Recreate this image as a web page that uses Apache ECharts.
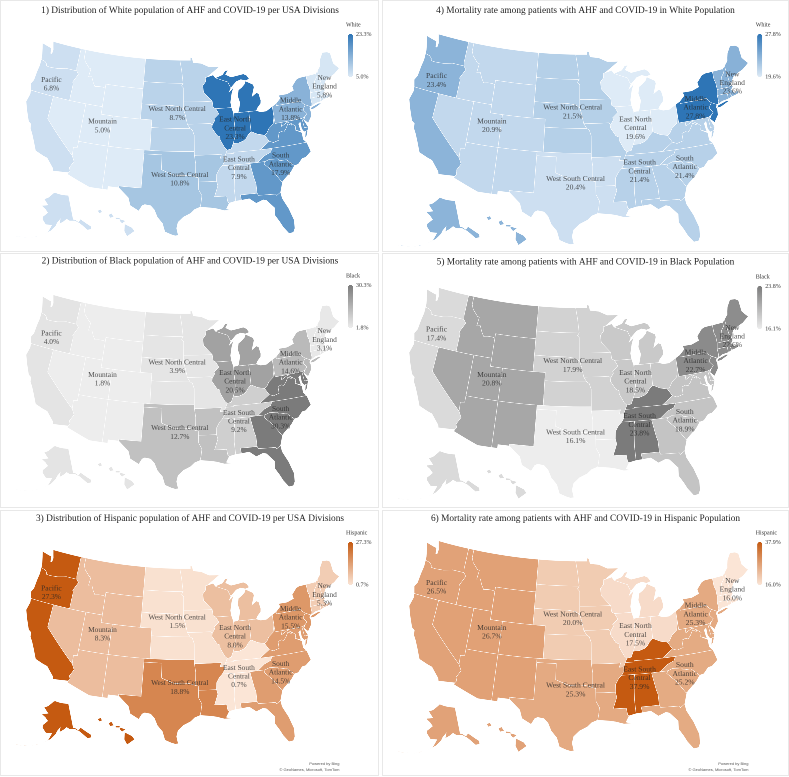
<!DOCTYPE html>
<html><head><meta charset="utf-8">
<style>html,body{margin:0;padding:0;background:#fff}#c,#t{position:absolute;left:0;top:0;width:789px;height:777px}</style>
<script src="https://cdn.jsdelivr.net/npm/echarts@6/dist/echarts.min.js"></script>
</head><body><div id="c"></div><div id="t"></div>
<script>
// ---------- chart values ----------
const divisions = ['Pacific','Mountain','West North Central','West South Central','East North Central','East South Central','South Atlantic','Middle Atlantic','New England'];
const divisionLabels = ['Pacific','Mountain','West North Central','West South Central','East North\nCentral','East South\nCentral','South\nAtlantic','Middle\nAtlantic','New\nEngland'];
const whiteDistribution    = [6.8, 5.0, 8.7, 10.8, 23.3, 7.9, 17.9, 13.8, 5.8];
const blackDistribution    = [4.0, 1.8, 3.9, 12.7, 20.5, 9.2, 30.3, 14.6, 3.1];
const hispanicDistribution = [27.3, 8.3, 1.5, 18.8, 8.0, 0.7, 14.5, 15.5, 5.3];
const whiteMortality       = [23.4, 20.9, 21.5, 20.4, 19.6, 21.4, 21.4, 27.8, 23.6];
const blackMortality       = [17.4, 20.8, 17.9, 16.1, 18.5, 23.8, 18.9, 22.7, 22.6];
const hispanicMortality    = [26.5, 26.7, 20.0, 25.3, 17.5, 37.9, 25.2, 25.3, 16.0];
const panelTitles = [
 '1) Distribution of White population of AHF and COVID-19 per USA Divisions',
 '2) Distribution of Black population of AHF and COVID-19 per USA Divisions',
 '3) Distribution of Hispanic population of AHF and COVID-19 per USA Divisions',
 '4) Mortality rate among patients with AHF and COVID-19 in White Population',
 '5) Mortality rate among patients with AHF and COVID-19 in Black Population',
 '6) Mortality rate among patients with AHF and COVID-19 in Hispanic Population'];
const legendNames = ['White','Black','Hispanic','White','Black','Hispanic'];
const stateDivision = {WA:0,OR:0,CA:0,AK:0,HI:0,MT:1,ID:1,WY:1,NV:1,UT:1,CO:1,AZ:1,NM:1,ND:2,SD:2,NE:2,KS:2,MN:2,IA:2,MO:2,TX:3,OK:3,AR:3,LA:3,WI:4,MI:4,IL:4,IN:4,OH:4,KY:5,TN:5,MS:5,AL:5,DE:6,MD:6,VA:6,WV:6,NC:6,SC:6,GA:6,FL:6,NY:7,NJ:7,PA:7,ME:8,NH:8,VT:8,MA:8,RI:8,CT:8};
// label anchors, lon/lat of each division's text
const labelAnchors = [[-120.9,43.47],[-110.5,39.5],[-97.6,41.97],[-97,33.36],[-87.5,39.75],[-87.46,34.5],[-80.7,34.33],[-77.4,41.17],[-70.55,43.05]];

// ---------- base map (simplified state outlines, lon/lat) ----------
const S = {
WA:[[[-124.7,48.4],[-123.2,48.15],[-122.75,48.1],[-122.6,47.4],[-122.35,47.4],[-122.3,47.95],[-122.5,48.4],[-122.75,49],[-117.03,49],[-117.04,46.42],[-116.92,45.99],[-118.98,46],[-119.3,45.93],[-120.5,45.7],[-121.2,45.65],[-122,45.6],[-122.7,45.63],[-122.8,45.9],[-123.2,46.15],[-124,46.27],[-124.05,46.7],[-124.15,47],[-124.4,47.7]]],
OR:[[[-124,46.27],[-123.2,46.15],[-122.8,45.9],[-122.7,45.63],[-122,45.6],[-121.2,45.65],[-120.5,45.7],[-119.3,45.93],[-118.98,46],[-116.92,45.99],[-116.47,45.6],[-116.85,45],[-117.2,44.45],[-117.03,44.2],[-117.03,42],[-120,42],[-124.2,42],[-124.55,42.84],[-124.2,43.4],[-124.1,44.6],[-123.95,45.5]]],
CA:[[[-124.2,42],[-120,42],[-120,39],[-114.63,35],[-114.15,34.3],[-114.7,33.4],[-114.5,33],[-114.72,32.72],[-117.12,32.53],[-117.25,32.85],[-118.5,34],[-119.2,34.15],[-120.6,34.55],[-121.3,35.7],[-121.9,36.6],[-122.4,37.2],[-122.5,37.75],[-123,38],[-123.8,39.3],[-124.4,40.4],[-124.1,41.5]]],
NV:[[[-120,42],[-117.03,42],[-114.04,42],[-114.05,37],[-114.05,36.2],[-114.7,36.1],[-114.63,35],[-120,39]]],
ID:[[[-117.03,49],[-116.05,49],[-116.05,48],[-115.7,47.45],[-114.7,46.7],[-114.35,46.65],[-114.5,45.55],[-113.9,45.65],[-113.45,44.95],[-113,44.45],[-112.3,44.55],[-111.5,44.55],[-111.05,44.47],[-111.05,42],[-114.04,42],[-117.03,42],[-117.03,44.2],[-117.2,44.45],[-116.85,45],[-116.47,45.6],[-116.92,45.99],[-117.04,46.42]]],
MT:[[[-116.05,49],[-104.05,49],[-104.05,45.94],[-104.05,45],[-111.05,45],[-111.05,44.47],[-111.5,44.55],[-112.3,44.55],[-113,44.45],[-113.45,44.95],[-113.9,45.65],[-114.5,45.55],[-114.35,46.65],[-114.7,46.7],[-115.7,47.45],[-116.05,48]]],
WY:[[[-111.05,45],[-104.05,45],[-104.05,43],[-104.05,41],[-111.05,41],[-111.05,42],[-111.05,44.47]]],
UT:[[[-114.04,42],[-111.05,42],[-111.05,41],[-109.05,41],[-109.05,37],[-114.05,37]]],
CO:[[[-109.05,41],[-104.05,41],[-102.05,41],[-102.05,40],[-102.04,37],[-103,37],[-109.05,37]]],
AZ:[[[-114.05,37],[-109.05,37],[-109.05,31.33],[-111.07,31.33],[-114.81,32.5],[-114.72,32.72],[-114.5,33],[-114.7,33.4],[-114.15,34.3],[-114.63,35],[-114.7,36.1],[-114.05,36.2]]],
NM:[[[-109.05,37],[-103,37],[-103,36.5],[-103.04,32],[-106.62,32],[-106.53,31.78],[-108.21,31.78],[-108.21,31.33],[-109.05,31.33]]],
ND:[[[-104.05,49],[-97.23,49],[-96.85,47.6],[-96.56,45.94],[-104.05,45.94]]],
SD:[[[-104.05,45.94],[-96.56,45.94],[-96.85,45.6],[-96.45,45.3],[-96.45,43.5],[-96.44,42.49],[-97.2,42.85],[-98.5,43],[-104.05,43],[-104.05,45]]],
NE:[[[-104.05,43],[-98.5,43],[-97.2,42.85],[-96.44,42.49],[-96.1,41.7],[-95.9,41],[-95.77,40.58],[-95.3,40],[-102.05,40],[-102.05,41],[-104.05,41]]],
KS:[[[-102.05,40],[-95.3,40],[-94.9,39.8],[-94.6,39.1],[-94.62,37],[-102.04,37]]],
OK:[[[-103,37],[-102.04,37],[-94.62,37],[-94.62,36.5],[-94.43,35.4],[-94.48,33.64],[-95.5,33.9],[-96.6,33.85],[-97.9,33.9],[-99.2,34.3],[-100,34.56],[-100,36.5],[-103,36.5]]],
TX:[[[-103,36.5],[-100,36.5],[-100,34.56],[-99.2,34.3],[-97.9,33.9],[-96.6,33.85],[-95.5,33.9],[-94.48,33.64],[-94.04,33.55],[-94.04,33],[-94.04,32],[-93.55,31.2],[-93.7,30.3],[-93.85,29.7],[-94.7,29.4],[-95.3,28.9],[-96.4,28.4],[-97.2,27.7],[-97.4,26.9],[-97.15,25.96],[-97.6,25.9],[-98.2,26.06],[-99.1,26.4],[-99.5,27.5],[-100.3,28.3],[-100.8,29.25],[-101.4,29.77],[-102.3,29.88],[-102.7,29.7],[-103.15,28.98],[-104.5,29.6],[-104.9,30.6],[-106,31.4],[-106.53,31.78],[-106.62,32],[-103.04,32]]],
AR:[[[-94.62,36.5],[-90.15,36.5],[-90.37,36],[-89.7,36],[-89.7,35.5],[-90.1,35],[-90.6,34.6],[-91.1,33.9],[-91.17,33],[-94.04,33],[-94.04,33.55],[-94.48,33.64],[-94.43,35.4]]],
LA:[[[-94.04,33],[-91.17,33],[-91,32.4],[-91.6,31],[-89.73,31],[-89.6,30.2],[-89.4,30.05],[-89.9,29.3],[-89.2,29.1],[-90.2,29.1],[-91.3,29.4],[-92.2,29.55],[-93.85,29.7],[-93.7,30.3],[-93.55,31.2],[-94.04,32]]],
MO:[[[-95.77,40.58],[-91.73,40.61],[-91.42,40.38],[-91.5,40],[-90.7,39],[-90.2,38.8],[-90.2,38.4],[-89.5,37.3],[-89.13,37],[-89.42,36.5],[-89.7,36],[-90.37,36],[-90.15,36.5],[-94.62,36.5],[-94.62,37],[-94.6,39.1],[-94.9,39.8],[-95.3,40]]],
IA:[[[-96.45,43.5],[-91.22,43.5],[-91.1,42.7],[-90.65,42.5],[-90.15,41.8],[-91.05,41.2],[-90.95,40.95],[-91.42,40.38],[-91.73,40.61],[-95.77,40.58],[-95.9,41],[-96.1,41.7],[-96.44,42.49]]],
MN:[[[-97.23,49],[-95.15,49],[-95.15,49.38],[-94.8,49.3],[-94.6,48.7],[-93,48.55],[-91.5,48.05],[-89.5,48],[-92,46.7],[-92.3,46.65],[-92.3,46.1],[-92.85,45.6],[-92.75,44.75],[-91.22,43.5],[-96.45,43.5],[-96.45,45.3],[-96.85,45.6],[-96.56,45.94],[-96.85,47.6]]],
WI:[[[-92,46.7],[-90.8,46.95],[-90.4,46.55],[-88.1,45.9],[-87.8,45.35],[-87.6,45.1],[-88,44.55],[-87.4,44.9],[-87.05,45.25],[-87.55,44.3],[-87.9,43.2],[-87.8,42.5],[-90.65,42.5],[-91.1,42.7],[-91.22,43.5],[-92.75,44.75],[-92.85,45.6],[-92.3,46.1],[-92.3,46.65]]],
IL:[[[-90.65,42.5],[-87.8,42.5],[-87.53,41.72],[-87.53,39.35],[-87.6,38.7],[-88.05,37.8],[-88.45,37.1],[-89.13,37],[-89.5,37.3],[-90.2,38.4],[-90.2,38.8],[-90.7,39],[-91.5,40],[-91.42,40.38],[-90.95,40.95],[-91.05,41.2],[-90.15,41.8]]],
IN:[[[-87.53,41.72],[-87.2,41.76],[-86.8,41.76],[-84.8,41.76],[-84.82,39.1],[-85.4,38.7],[-85.8,38.27],[-86.3,38],[-87.1,37.8],[-88.05,37.8],[-87.6,38.7],[-87.53,39.35]]],
OH:[[[-84.8,41.76],[-83.45,41.73],[-82.7,41.5],[-81.7,41.5],[-80.52,41.98],[-80.52,40.64],[-80.85,39.7],[-81.7,39.2],[-82.2,38.6],[-82.6,38.42],[-83.7,38.65],[-84.82,39.1]]],
MI:[[[-86.8,41.76],[-84.8,41.76],[-83.45,41.73],[-83.15,42.1],[-82.5,42.6],[-82.4,43],[-82.6,43.9],[-83,44.07],[-83.9,43.65],[-83.3,44.85],[-83.4,45.2],[-84.75,45.78],[-85,45.4],[-85.6,45],[-86.25,44.7],[-86.5,43.9],[-86.2,43],[-86.6,41.95]],
    [[-90.4,46.55],[-89,46.9],[-88.45,47.4],[-87.9,47.45],[-88.4,46.9],[-87.4,46.5],[-85,46.75],[-84.4,46.5],[-84,46],[-84.75,45.85],[-85.6,46.05],[-86.5,45.85],[-87.6,45.1],[-87.8,45.35],[-88.1,45.9]]],
KY:[[[-89.42,36.5],[-89.13,37],[-88.45,37.1],[-88.05,37.8],[-87.1,37.8],[-86.3,38],[-85.8,38.27],[-85.4,38.7],[-84.82,39.1],[-83.7,38.65],[-82.6,38.42],[-81.97,37.54],[-83.68,36.6],[-88.07,36.65],[-88.07,36.5]]],
TN:[[[-89.42,36.5],[-88.07,36.5],[-88.07,36.65],[-83.68,36.6],[-81.68,36.59],[-82,36.1],[-83.1,35.75],[-84.32,35],[-85.6,34.98],[-88.2,35],[-90.1,35],[-89.7,35.5],[-89.7,36]]],
MS:[[[-90.1,35],[-88.2,35],[-88.1,34.9],[-88.47,31.9],[-88.4,30.25],[-89.4,30.05],[-89.6,30.2],[-89.73,31],[-91.6,31],[-91,32.4],[-91.17,33],[-91.1,33.9],[-90.6,34.6]]],
AL:[[[-88.2,35],[-85.6,34.98],[-85.18,32.87],[-85,32.3],[-85,31],[-87.6,31],[-87.5,30.3],[-88.4,30.25],[-88.47,31.9],[-88.1,34.9]]],
GA:[[[-85.6,34.98],[-84.32,35],[-83.1,35],[-83.35,34.7],[-82,33.5],[-81,32.1],[-80.85,32.03],[-81.4,30.72],[-82.05,30.36],[-82.2,30.57],[-84.86,30.7],[-85,31],[-85,32.3],[-85.18,32.87]]],
FL:[[[-87.6,31],[-85,31],[-84.86,30.7],[-82.2,30.57],[-82.05,30.36],[-81.4,30.72],[-81.3,29.9],[-80.55,28.4],[-80.05,26.8],[-80.15,25.7],[-80.45,25.2],[-81.1,25.15],[-81.8,26.1],[-82.2,26.9],[-82.75,27.8],[-82.65,28.8],[-83.7,29.9],[-84.2,30.05],[-85.3,29.7],[-86.3,30.4],[-87.5,30.3]]],
SC:[[[-83.35,34.7],[-83.1,35],[-82.4,35.2],[-81.05,35.1],[-80.8,34.82],[-79.67,34.8],[-78.55,33.86],[-79.2,33.2],[-80.45,32.35],[-80.85,32.03],[-81,32.1],[-82,33.5]]],
NC:[[[-84.32,35],[-83.1,35],[-82.4,35.2],[-81.05,35.1],[-80.8,34.82],[-79.67,34.8],[-78.55,33.86],[-77.9,33.95],[-77.1,34.6],[-76.5,34.65],[-75.5,35.25],[-75.75,36.2],[-75.87,36.55],[-81.68,36.59],[-82,36.1],[-83.1,35.75]]],
VA:[[[-83.68,36.6],[-81.97,37.54],[-81.3,37.3],[-80.3,37.5],[-80.3,38.4],[-79.7,38.55],[-79.3,38.42],[-78.87,38.77],[-78.35,39.4],[-77.83,39.13],[-77.72,39.32],[-77.1,38.9],[-77.3,38.4],[-76.3,37.9],[-76.3,37],[-75.87,36.55],[-81.68,36.59]],
    [[-75.95,37.15],[-75.65,37.95],[-75.25,38.03],[-75.6,37.4]]],
WV:[[[-82.6,38.42],[-82.2,38.6],[-81.7,39.2],[-80.85,39.7],[-80.52,40.64],[-80.52,39.72],[-79.48,39.72],[-79.48,39.2],[-78.4,39.62],[-77.72,39.32],[-77.83,39.13],[-78.35,39.4],[-78.87,38.77],[-79.3,38.42],[-79.7,38.55],[-80.3,38.4],[-80.3,37.5],[-81.3,37.3],[-81.97,37.54]]],
MD:[[[-79.48,39.72],[-75.79,39.72],[-75.7,38.46],[-75.05,38.45],[-75.25,38.03],[-75.9,37.95],[-76.2,38.4],[-76.2,39.3],[-76.55,39.1],[-76.45,38.3],[-76.35,38.05],[-77.3,38.4],[-77.1,38.9],[-77.72,39.32],[-78.4,39.62],[-79.48,39.2]]],
DE:[[[-75.79,39.72],[-75.4,39.8],[-75.55,39.5],[-75.05,38.45],[-75.7,38.46]]],
NJ:[[[-74.7,41.36],[-73.9,41],[-74.1,40.7],[-74,40.4],[-74.1,39.75],[-74.9,38.95],[-75.5,39.5],[-75.1,39.95],[-74.75,40.2],[-75.2,40.7],[-75.1,41]]],
PA:[[[-80.52,41.98],[-79.76,42.27],[-79.76,42],[-75.35,42],[-75.05,41.6],[-74.7,41.36],[-75.1,41],[-75.2,40.7],[-74.75,40.2],[-75.1,39.95],[-75.4,39.8],[-75.79,39.72],[-79.48,39.72],[-80.52,39.72],[-80.52,40.64]]],
NY:[[[-79.76,42.27],[-78.9,42.85],[-79.05,43.27],[-77.5,43.25],[-76.2,43.55],[-76.3,44.1],[-75.3,44.85],[-74.7,45],[-73.35,45],[-73.4,44],[-73.25,43.6],[-73.27,42.75],[-73.5,42.05],[-73.5,41.3],[-73.65,41],[-73.9,41],[-74.7,41.36],[-75.05,41.6],[-75.35,42],[-79.76,42]],
    [[-74,40.6],[-73.7,40.88],[-72.3,41.15],[-71.9,41.05],[-73.3,40.62]]],
CT:[[[-73.5,42.05],[-71.8,42.02],[-71.85,41.32],[-72.9,41.25],[-73.65,41],[-73.5,41.3]]],
RI:[[[-71.8,42.02],[-71.38,42.02],[-71.2,41.5],[-71.85,41.32]]],
MA:[[[-73.27,42.75],[-72.45,42.73],[-71.3,42.7],[-70.85,42.87],[-70.6,42.65],[-71,42.3],[-70.55,41.8],[-70.1,42.05],[-69.95,41.7],[-70.6,41.55],[-71.2,41.5],[-71.38,42.02],[-71.8,42.02],[-73.5,42.05]]],
VT:[[[-73.35,45],[-71.5,45.01],[-71.55,44.5],[-72.05,44.1],[-72.3,43.6],[-72.45,42.73],[-73.27,42.75],[-73.25,43.6],[-73.4,44]]],
NH:[[[-71.5,45.01],[-71.08,45.3],[-70.98,43.4],[-70.7,43.07],[-70.85,42.87],[-71.3,42.7],[-72.45,42.73],[-72.3,43.6],[-72.05,44.1],[-71.55,44.5]]],
ME:[[[-71.08,45.3],[-70.4,45.8],[-70.25,46.2],[-70,46.7],[-69.23,47.46],[-68.3,47.35],[-67.8,47.07],[-67.8,45.7],[-67.45,45.3],[-67,44.85],[-68.2,44.3],[-69,44.1],[-70.1,43.75],[-70.7,43.07],[-70.98,43.4]]],
AK:[[[-141,69.65],[-141,60.3],[-139.5,60],[-137.5,58.9],[-135.5,59.7],[-133.5,58.4],[-130,55.9],[-130.5,54.8],[-133,55],[-135.5,57.2],[-137,58.3],[-139.9,59.6],[-144,60],[-146,60.8],[-148.5,60],[-151.8,59.2],[-151,61],[-153.5,59.6],[-154.5,58.5],[-158,56.5],[-163,54.8],[-160,55.9],[-157.5,58.7],[-162,58.7],[-165,60.5],[-165.2,61.5],[-161.5,63.3],[-164,64.5],[-168,65.6],[-162,66.2],[-166.7,68.3],[-163,69],[-156.5,71.3],[-150,70.5]],
    [[-167.2,53.4],[-166.2,53.9],[-166.6,53.9],[-168,53.4]],[[-170.2,52.75],[-168.8,53.2],[-169,53.1],[-170.4,52.65]],[[-174.4,52.05],[-172.8,52.4],[-173,52.4],[-174.6,52.2]],[[-177.8,51.6],[-176,51.9],[-176.2,52],[-177.8,51.8]],[[-179.5,51.3],[-178.2,51.7],[-178.4,51.8],[-179.5,51.5]]],
HI:[[[-156.05,20.4],[-155,19.9],[-154.65,19.45],[-155.7,18.75],[-156.1,19.45]],
    [[-156.8,21.05],[-155.9,20.8],[-156.4,20.45],[-156.7,20.75]],[[-158.3,21.6],[-157.9,21.8],[-157.55,21.3],[-158.1,21.2]],[[-159.85,22.15],[-159.4,22.3],[-159.2,21.95],[-159.6,21.8]],[[-157.35,21.25],[-156.7,21.2],[-156.75,21],[-157.3,21.02]]]
};

function densify(ring){const out=[];for(let i=0;i<ring.length;i++){const a=ring[i],b=ring[(i+1)%ring.length];const n=Math.max(1,Math.ceil(Math.max(Math.abs(a[0]-b[0]),Math.abs(a[1]-b[1]))));for(let k=0;k<n;k++)out.push([a[0]+(b[0]-a[0])*k/n,a[1]+(b[1]-a[1])*k/n]);}out.push(out[0].slice());return out;}
const features=Object.keys(S).map(k=>({type:'Feature',properties:{name:k},geometry:{type:'MultiPolygon',coordinates:S[k].map(r=>[densify(r)])}}));
echarts.registerMap('usa',{type:'FeatureCollection',features});

// Albers conic; Alaska and Hawaii go to their insets
const R=Math.PI/180, U=1000;
function conic(p1,p2,lat0,lon0){const n=(Math.sin(p1*R)+Math.sin(p2*R))/2,C=Math.cos(p1*R)**2+2*n*Math.sin(p1*R),r0=Math.sqrt(C-2*n*Math.sin(lat0*R))/n;
 return [(lon,lat)=>{const r=Math.sqrt(C-2*n*Math.sin(lat*R))/n,t=n*(lon-lon0)*R;return [r*Math.sin(t),r0-r*Math.cos(t)];},
  (x,y)=>{const dy=r0-y,r=Math.hypot(x,dy),t=Math.atan2(x,dy);return [lon0+t/n/R,Math.asin((C-(r*n)**2)/(2*n))/R];}];}
const [lower48,lower48Inv]=conic(29.5,45.5,38,-96);
const [alaska]=conic(55,65,71.3,-154);
const AKS=0.345, AK0=[-0.3035,-0.1116], barrow=alaska(-156.5,71.3);
const HI0=[-0.1327,-0.1983];
function project(p){const lon=p[0],lat=p[1];
 if(lat>50){const q=alaska(lon,lat);return [U*(AK0[0]+(q[0]-barrow[0])*AKS),-U*(AK0[1]+(q[1]-barrow[1])*AKS)];}
 if(lat<24&&lon<-150){return [U*(HI0[0]+(lon+155.5)*Math.cos(20*R)*R),-U*(HI0[1]+(lat-19.6)*R)];}
 const q=lower48(lon,lat);return [U*q[0],-U*q[1]];}
function unproject(p){return lower48Inv(p[0]/U,-p[1]/U);}
let bb=[1e9,1e9,-1e9,-1e9];
features.forEach(f=>f.geometry.coordinates.forEach(pg=>pg[0].forEach(c=>{const q=project(c);bb=[Math.min(bb[0],q[0]),Math.min(bb[1],q[1]),Math.max(bb[2],q[0]),Math.max(bb[3],q[1])];})));

// ---------- panels ----------
const BLUE=['#DEEBF7','#2E75B6'],GRAY=['#EDEDED','#7B7B7B'],ORANGE=['#FBE5D6','#C55A11'];
const panels=[
 {v:whiteDistribution,c:BLUE,k:.434,o:[186.1,143.9],tx:190,ty:10.5,box:[0.5,0.5,378,251],lg:[346,25,348,34]},
 {v:blackDistribution,c:GRAY,k:.434,o:[186.1,397.2],tx:190,ty:261,box:[0.5,253.5,378,254],lg:[346,276,348,285]},
 {v:hispanicDistribution,c:ORANGE,k:.434,o:[186.1,652.2],tx:190,ty:518.5,box:[0.5,510.5,378,265],lg:[346,533,348,542]},
 {v:whiteMortality,c:BLUE,k:.47,o:[582.4,145],tx:585.5,ty:10.5,box:[382.5,0.5,406,251],lg:[755.7,25,757.3,34]},
 {v:blackMortality,c:GRAY,k:.47,o:[582.4,398.5],tx:585.5,ty:262,box:[382.5,253.5,406,254],lg:[755.7,277,757.3,286]},
 {v:hispanicMortality,c:ORANGE,k:.47,o:[582.4,651.7],tx:585.5,ty:518.5,box:[382.5,510.5,406,265],lg:[755.7,533,757.3,542]}
];
const SERIF='"Liberation Serif","Times New Roman",serif';
const geoBase=[],geoText=[],mapSeries=[],labelSeries=[],visualMap=[],title=[],graphic=[];
panels.forEach((P,i)=>{
 const min=Math.min(...P.v),max=Math.max(...P.v);
 const box={map:'usa',projection:{project,unproject},aspectScale:1,roam:false,silent:true,
  left:P.o[0]+P.k*bb[0],top:P.o[1]+P.k*bb[1],width:P.k*(bb[2]-bb[0]),height:P.k*(bb[3]-bb[1]),
  label:{show:false},emphasis:{disabled:true},select:{disabled:true}};
 geoBase.push(Object.assign({},box,{itemStyle:{areaColor:P.c[0],borderColor:'rgba(255,255,255,0.85)',borderWidth:0.45}}));
 geoText.push(Object.assign({},box,{itemStyle:{areaColor:'transparent',borderColor:'transparent',borderWidth:0}}));
 mapSeries.push({type:'map',geoIndex:i,silent:true,data:Object.keys(stateDivision).map(s=>({name:s,value:P.v[stateDivision[s]]}))});
 visualMap.push({type:'continuous',seriesIndex:i,min,max,show:true,calculable:false,realtime:false,hoverLink:false,
  left:P.lg[2],top:P.lg[3],itemWidth:5,itemHeight:43,padding:0,text:null,inRange:{color:P.c},
  textStyle:{color:'transparent',fontSize:1},showLabel:false});
 title.push({text:panelTitles[i],left:P.tx,top:P.ty-6,textAlign:'center',padding:0,textStyle:{fontFamily:SERIF,fontSize:9.35,fontWeight:'normal',color:'#222',lineHeight:12}});
 graphic.push({type:'rect',z:-1,silent:true,shape:{x:P.box[0],y:P.box[1],width:P.box[2],height:P.box[3]},style:{fill:'none',stroke:'#e8e8e8',lineWidth:1}});
 const t=(s,x,y,fs,ex={})=>graphic.push({type:'text',silent:true,x,y,style:Object.assign({text:s,fontFamily:SERIF,fontSize:fs,fill:'#333',textVerticalAlign:'middle'},ex)});
 t(legendNames[i],P.lg[0],P.lg[1],6);
 t(max.toFixed(1)+'%',P.lg[2]+8,P.lg[3]+0.5,6);
 t(min.toFixed(1)+'%',P.lg[2]+8,P.lg[3]+43,6);
 if(i===2||i===5){const rx=P.box[0]+P.box[2]-(i===2?39:40);
  t('Powered by Bing',rx,764,4,{fontFamily:'"Liberation Sans",sans-serif',textAlign:'right',fill:'#555'});
  t('© GeoNames, Microsoft, TomTom',rx,770,4,{fontFamily:'"Liberation Sans",sans-serif',textAlign:'right',fill:'#555'});}
 labelSeries.push({type:'scatter',coordinateSystem:'geo',geoIndex:i,symbolSize:0,silent:true,z:5,
  data:divisions.map((d,j)=>({name:divisionLabels[j],value:[labelAnchors[j][0],labelAnchors[j][1],P.v[j]]})),
  label:{show:true,position:'inside',align:'center',verticalAlign:'middle',fontFamily:SERIF,fontSize:P.k>.45?7.6:7.4,lineHeight:8.7,color:'#262626',
   formatter:p=>p.name+'\n'+p.value[2].toFixed(1)+'%'},emphasis:{disabled:true}});
});
// map layer: high backing resolution keeps short coastline segments from being dropped at this small scale
const chart=echarts.init(document.getElementById('c'),null,{renderer:'canvas',devicePixelRatio:4});
chart.setOption({animation:false,backgroundColor:'#fff',geo:geoBase,series:mapSeries,visualMap,tooltip:{show:false}});
// text layer on top: same geo placement, only titles, labels, legend text and panel frames
const textChart=echarts.init(document.getElementById('t'),null,{renderer:'canvas',devicePixelRatio:2});
textChart.setOption({animation:false,backgroundColor:'transparent',title,geo:geoText,series:labelSeries,graphic,tooltip:{show:false}});
</script></body></html>
